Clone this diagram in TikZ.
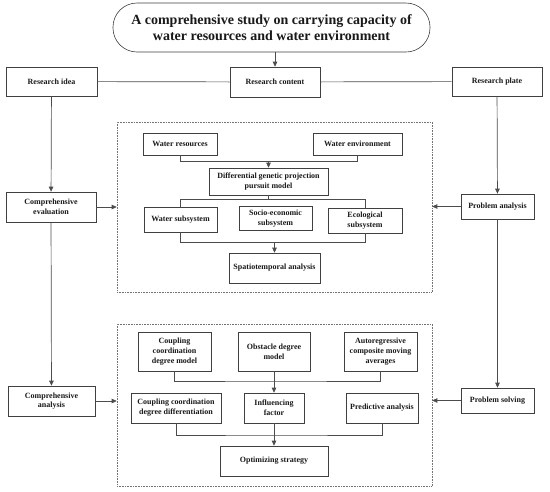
\documentclass[tikz,border=0pt]{standalone}
\usepackage{fontspec}
\setmainfont{Liberation Serif}
\usetikzlibrary{arrows.meta}

\tikzset{
  box/.style={draw=black!75, line width=0.6pt, fill=white, align=center, inner sep=1pt,
    font=\fontsize{8}{9.8}\selectfont\bfseries, text=black!90},
  frame/.style={draw=black!55, densely dotted, line width=0.6pt, inner sep=0pt},
  link/.style={draw=black!70, line width=0.7pt},
  arr/.style={link, -{Triangle[length=5pt,width=4.5pt]}}
}

\begin{document}
\begin{tikzpicture}[x=1pt, y=-1pt]
\useasboundingbox (0,0) rectangle (550,491);

% top row
\node[box, rounded corners=24pt, minimum width=317pt, minimum height=49pt,
  font=\fontsize{14}{16.5}\selectfont\bfseries] (title) at (271.5,27.5)
  {A comprehensive study on carrying capacity of\\water resources and water environment};
\node[box, minimum width=91pt, minimum height=29pt] (idea) at (51.5,81.5) {Research idea};
\node[box, minimum width=90pt, minimum height=30pt] (content) at (275,82) {Research content};
\node[box, minimum width=90pt, minimum height=29pt] (plate) at (497,81.5) {Research plate};

% side columns
\node[box, minimum width=90pt, minimum height=30pt] (evaluation) at (51,207) {Comprehensive\\evaluation};
\node[box, minimum width=87pt, minimum height=30pt] (analysis) at (51.5,401) {Comprehensive\\analysis};
\node[box, minimum width=73pt, minimum height=25pt] (probana) at (497.5,206.5) {Problem analysis};
\node[box, minimum width=73pt, minimum height=25pt] (probsol) at (497.5,400.5) {Problem solving};

% dotted frames
\node[frame, minimum width=315pt, minimum height=170pt] (frameA) at (274.5,207) {};
\node[frame, minimum width=315pt, minimum height=162pt] (frameB) at (274.5,405) {};

% frame A
\node[box, minimum width=74pt, minimum height=22pt] (wres) at (180,144) {Water resources};
\node[box, minimum width=89pt, minimum height=22pt] (wenv) at (357.5,144) {Water environment};
\node[box, minimum width=119pt, minimum height=27pt] (dgpp) at (268.5,181.5) {Differential genetic projection\\pursuit model};
\node[box, minimum width=73pt, minimum height=25pt] (wsub) at (180.5,219.5) {Water subsystem};
\node[box, minimum width=73pt, minimum height=24pt] (sesub) at (275.5,218.5) {Socio-economic\\subsystem};
\node[box, minimum width=74pt, minimum height=25pt] (esub) at (365,220.5) {Ecological\\subsystem};
\node[box, minimum width=91pt, minimum height=30pt] (spat) at (274.5,268) {Spatiotemporal analysis};

% frame B
\node[box, minimum width=73pt, minimum height=39pt] (ccdm) at (174.5,351.5) {Coupling\\coordination\\degree model};
\node[box, minimum width=72pt, minimum height=39pt] (odm) at (274,351.5) {Obstacle degree\\model};
\node[box, minimum width=73pt, minimum height=39pt] (acma) at (380.5,351.5) {Autoregressive\\composite moving\\averages};
\node[box, minimum width=90pt, minimum height=30pt] (ccdd) at (176,408) {Coupling coordination\\degree differentiation};
\node[box, minimum width=60pt, minimum height=30pt] (infl) at (274,408) {Influencing\\factor};
\node[box, minimum width=72pt, minimum height=30pt] (pred) at (382,408) {Predictive analysis};
\node[box, minimum width=108pt, minimum height=30pt] (opt) at (274,461) {Optimizing strategy};

% connectors
\draw[arr] (title.south -| content.north) -- (content.north);
\draw[link] (idea) -- (content);
\draw[link] (content) -- (plate);
\draw[arr] (idea) -- (evaluation);
\draw[arr] (evaluation) -- (analysis);
\draw[arr] (plate) -- (probana);
\draw[arr] (probana) -- (probsol);
\draw[arr] (evaluation) -- (evaluation -| frameA.west);
\draw[arr] (analysis) -- (analysis -| frameB.west);
\draw[arr] (probana) -- (probana -| frameA.east);
\draw[arr] (probsol) -- (probsol -| frameB.east);

\coordinate (j1) at ([yshift=6pt]dgpp.north);
\draw[link] (wres.south) |- (j1) -| (wenv.south);
\draw[arr] (j1) -- (dgpp.north);
\coordinate (j2) at ([yshift=-4pt]dgpp.south);
\draw[link] (dgpp.south) -- (j2);
\draw[link] (wsub.north) |- (j2) -| (esub.north);
\coordinate (j3) at ([yshift=10pt]spat.north);
\draw[link] (wsub.south) |- (j3) -| (esub.south);
\draw[arr] (j3) -- (spat.north);

\coordinate (j4) at (odm.south |- 0,381);
\draw[link] (ccdm.south) |- (j4) -| (acma.south);
\draw[arr] (odm.south) -- (infl.north);
\coordinate (j5) at (infl.south |- 0,435);
\draw[link] (ccdd.south) |- (j5) -| (pred.south);
\draw[arr] (infl.south) -- (opt.north);
\end{tikzpicture}
\end{document}
